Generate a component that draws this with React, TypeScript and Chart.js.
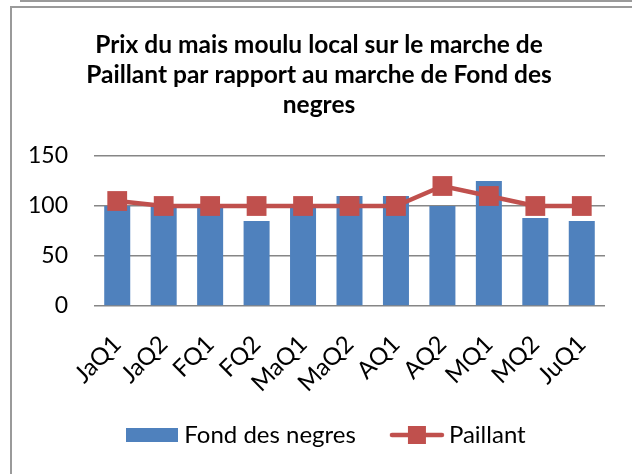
import React, { useEffect, useRef } from "react";
import { Chart, registerables } from "chart.js";

Chart.register(...registerables);

const categories = ["JaQ1", "JaQ2", "FQ1", "FQ2", "MaQ1", "MaQ2", "AQ1", "AQ2", "MQ1", "MQ2", "JuQ1"];
const fondDesNegres = [100, 100, 100, 85, 100, 110, 110, 100, 125, 88, 85];
const paillant = [105, 100, 100, 100, 100, 100, 100, 120, 110, 100, 100];
const titleLines = [
  "Prix du mais moulu local sur le marche de",
  "Paillant par rapport au marche de Fond des",
  "negres",
];
const seriesNames = ["Fond des negres", "Paillant"];

const BLUE = "#4F81BD";
const RED = "#C0504D";
const FONT = "Lato, 'Liberation Sans', sans-serif";

function makeBarIcon(): HTMLCanvasElement {
  const c = document.createElement("canvas");
  c.width = 52;
  c.height = 14;
  const ctx = c.getContext("2d")!;
  ctx.fillStyle = BLUE;
  ctx.fillRect(0, 0, 52, 14);
  return c;
}

function makeLineIcon(): HTMLCanvasElement {
  const c = document.createElement("canvas");
  c.width = 56;
  c.height = 20;
  const ctx = c.getContext("2d")!;
  ctx.strokeStyle = RED;
  ctx.lineWidth = 4.5;
  ctx.lineCap = "round";
  ctx.beginPath();
  ctx.moveTo(3, 10);
  ctx.lineTo(53, 10);
  ctx.stroke();
  ctx.fillStyle = RED;
  ctx.fillRect(19, 1, 18, 18);
  return c;
}

const shiftPlugin = {
  id: "shiftBlocks",
  afterLayout(chart: any) {
    const lg = chart.legend;
    if (lg) {
      lg.left += 20;
      lg.right += 20;
      lg.top -= 17;
      lg.bottom -= 17;
    }
    const tb = chart.titleBlock;
    if (tb) {
      tb.left += 10;
      tb.right += 10;
    }
  },
};

export default function App() {
  const ref = useRef<HTMLCanvasElement | null>(null);

  useEffect(() => {
    if (!ref.current) return;
    const barIcon = makeBarIcon();
    const lineIcon = makeLineIcon();
    const chart = new Chart(ref.current, {
      type: "bar",
      data: {
        labels: categories,
        datasets: [
          {
            type: "bar",
            label: seriesNames[0],
            data: fondDesNegres,
            backgroundColor: BLUE,
            barPercentage: 0.56,
            categoryPercentage: 1,
            order: 2,
          },
          {
            type: "line",
            label: seriesNames[1],
            data: paillant,
            borderColor: RED,
            backgroundColor: RED,
            borderWidth: 4.5,
            pointStyle: "rect",
            pointRadius: 14,
            pointBackgroundColor: RED,
            pointBorderColor: RED,
            pointBorderWidth: 0,
            order: 1,
          } as any,
        ],
      },
      plugins: [shiftPlugin],
      options: {
        animation: false,
        responsive: false,
        maintainAspectRatio: false,
        layout: { padding: { left: 0, right: 27, top: 0, bottom: 0 } },
        plugins: {
          tooltip: { enabled: false },
          title: {
            display: true,
            text: titleLines,
            color: "#000",
            font: { family: FONT, size: 24.5, weight: "bold", lineHeight: 1.2245 },
            padding: { top: 22, bottom: 36 },
          },
          legend: {
            display: true,
            position: "bottom",
            labels: {
              color: "#000",
              font: { family: FONT, size: 24 },
              usePointStyle: true,
              pointStyleWidth: 40,
              boxHeight: 14,
              padding: 41,
              generateLabels: (ch: any) => {
                const items = Chart.defaults.plugins.legend.labels.generateLabels(ch);
                items.sort((a: any, b: any) => a.datasetIndex - b.datasetIndex);
                return items.map((it: any) => ({
                  ...it,
                  pointStyle: it.datasetIndex === 0 ? barIcon : lineIcon,
                  rotation: 0,
                }));
              },
            },
          },
        },
        scales: {
          x: {
            grid: { display: false, drawTicks: false },
            border: { display: false },
            ticks: {
              color: "#000",
              font: { family: FONT, size: 24 },
              minRotation: 45,
              maxRotation: 45,
              padding: 24,
              autoSkip: false,
            },
            afterFit: (s: any) => {
              s.height = 93;
            },
          },
          y: {
            min: 0,
            max: 150,
            grid: { color: "#868686", lineWidth: 1.5, drawTicks: false },
            border: { display: false },
            ticks: {
              stepSize: 50,
              color: "#000",
              font: { family: FONT, size: 23 },
              padding: 26,
            },
            afterFit: (s: any) => {
              s.width = 81;
            },
          },
        },
      },
    });
    return () => chart.destroy();
  }, []);

  return (
    <div style={{ position: "fixed", left: 0, top: 0, width: 632, height: 474, background: "#fff", overflow: "hidden" }}>
      <div style={{ position: "absolute", left: 20, top: 0, width: 612, height: 2, background: "#9a9a9a" }} />
      <div
        style={{
          position: "absolute",
          left: 10,
          top: 6,
          width: 700,
          height: 600,
          borderLeft: "2px solid #9a9a9a",
          borderTop: "2px solid #9a9a9a",
        }}
      />
      <canvas ref={ref} width={619} height={466} style={{ position: "absolute", left: 13, top: 8, width: 619, height: 466 }} />
    </div>
  );
}
